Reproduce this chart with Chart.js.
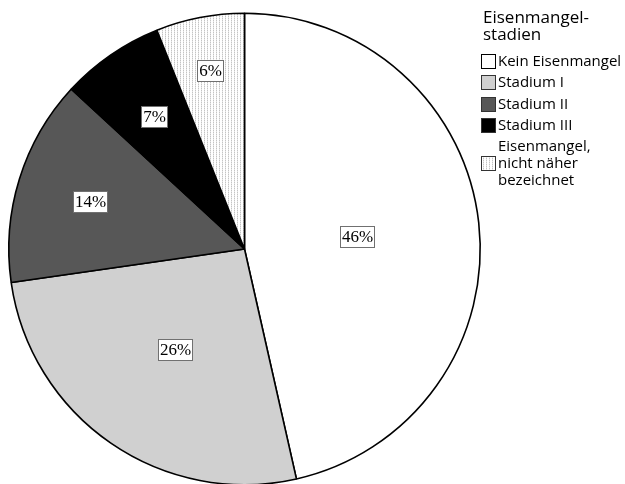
<!DOCTYPE html>
<html lang="de">
<head>
<meta charset="UTF-8">
<title>Eisenmangelstadien</title>
<style>
  html, body { margin: 0; padding: 0; background: #fff; overflow: hidden; }
  #wrap { width: 625px; height: 484px; overflow: hidden; }
</style>
</head>
<body>
<div id="wrap"><canvas id="pie" width="625" height="500"></canvas></div>
<script src="https://cdn.jsdelivr.net/npm/chart.js"></script>
<script>
const categories = ['Kein Eisenmangel', 'Stadium I', 'Stadium II', 'Stadium III', 'Eisenmangel, nicht näher bezeichnet'];
const legendLines = [['Kein Eisenmangel'], ['Stadium I'], ['Stadium II'], ['Stadium III'], ['Eisenmangel,', 'nicht näher', 'bezeichnet']];
const shares = [46, 26, 14, 7, 6];
const legendTitle = ['Eisenmangel-', 'stadien'];

// fine dotted fill for the last slice
function dotPattern() {
  const c = document.createElement('canvas');
  c.width = 3; c.height = 2;
  const g = c.getContext('2d');
  g.fillStyle = '#fff';
  g.fillRect(0, 0, 3, 2);
  g.fillStyle = '#c4c4c4';
  g.fillRect(0, 0, 1, 1);
  g.fillStyle = '#e6e6e6';
  g.fillRect(0, 1, 1, 1);
  return document.getElementById('pie').getContext('2d').createPattern(c, 'repeat');
}

const fills = ['#ffffff', '#d0d0d0', '#575757', '#000000', dotPattern()];

// boxed percentage labels, placed along each slice's middle angle
const boxLabels = {
  id: 'boxLabels',
  afterDatasetsDraw(chart, args, opts) {
    const ctx = chart.ctx;
    const meta = chart.getDatasetMeta(0);
    ctx.save();
    ctx.font = '17px "Liberation Serif", serif';
    ctx.textAlign = 'center';
    ctx.textBaseline = 'middle';
    meta.data.forEach((arc, i) => {
      const p = arc.getProps(['x', 'y', 'startAngle', 'endAngle', 'outerRadius'], true);
      const mid = (p.startAngle + p.endAngle) / 2;
      const r = p.outerRadius * opts.dist[i];
      const x = p.x + Math.cos(mid) * r;
      const y = p.y + Math.sin(mid) * r;
      const txt = shares[i] + '%';
      const w = Math.round(ctx.measureText(txt).width + 3);
      const h = 21;
      const left = Math.round(x - w / 2), top = Math.round(y - h / 2);
      ctx.fillStyle = '#fff';
      ctx.fillRect(left, top, w, h);
      ctx.strokeStyle = '#707070';
      ctx.lineWidth = 1;
      ctx.strokeRect(left + 0.5, top + 0.5, w, h);
      ctx.fillStyle = '#000';
      ctx.fillText(txt, left + w / 2 + 0.5, top + h / 2 + 1.5);
    });
    ctx.restore();
  }
};

// legend on the right with wrapped entries
const sideLegend = {
  id: 'sideLegend',
  afterDraw(chart) {
    const ctx = chart.ctx;
    const x0 = 481;
    ctx.save();
    ctx.textBaseline = 'alphabetic';
    ctx.textAlign = 'left';
    ctx.fillStyle = '#000';
    ctx.font = '17px "Open Sans", sans-serif';
    ctx.fillText(legendTitle[0], x0 + 2, 23);
    ctx.fillText(legendTitle[1], x0 + 2, 40);

    ctx.font = '15px "Open Sans", sans-serif';
    let base = 66;
    const rowGap = 21.3;
    const lineH = 16.8;
    legendLines.forEach((lines, i) => {
      const blockH = (lines.length - 1) * lineH;
      const cy = base - 5 + blockH / 2;
      ctx.fillStyle = fills[i];
      ctx.fillRect(x0, Math.round(cy - 7), 15, 15);
      ctx.strokeStyle = i === 0 ? '#000' : '#333';
      ctx.lineWidth = 1;
      ctx.strokeRect(x0 + 0.5, Math.round(cy - 7) + 0.5, 14, 14);
      ctx.fillStyle = '#000';
      lines.forEach((t, k) => ctx.fillText(t, x0 + 17, base + k * lineH));
      base += blockH + (lines.length > 1 ? lineH + 6 : rowGap);
    });
    ctx.restore();
  }
};

new Chart(document.getElementById('pie'), {
  type: 'pie',
  data: {
    labels: categories,
    datasets: [{
      data: shares,
      backgroundColor: fills,
      borderColor: '#000',
      borderWidth: 1.6
    }]
  },
  options: {
    responsive: false,
    animation: false,
    layout: { padding: { left: 8, top: 12, right: 144, bottom: 14 } },
    plugins: {
      legend: { display: false },
      tooltip: { enabled: false },
      boxLabels: { dist: [0.48, 0.52, 0.685, 0.68, 0.77] }
    }
  },
  plugins: [boxLabels, sideLegend]
});
</script>
</body>
</html>
